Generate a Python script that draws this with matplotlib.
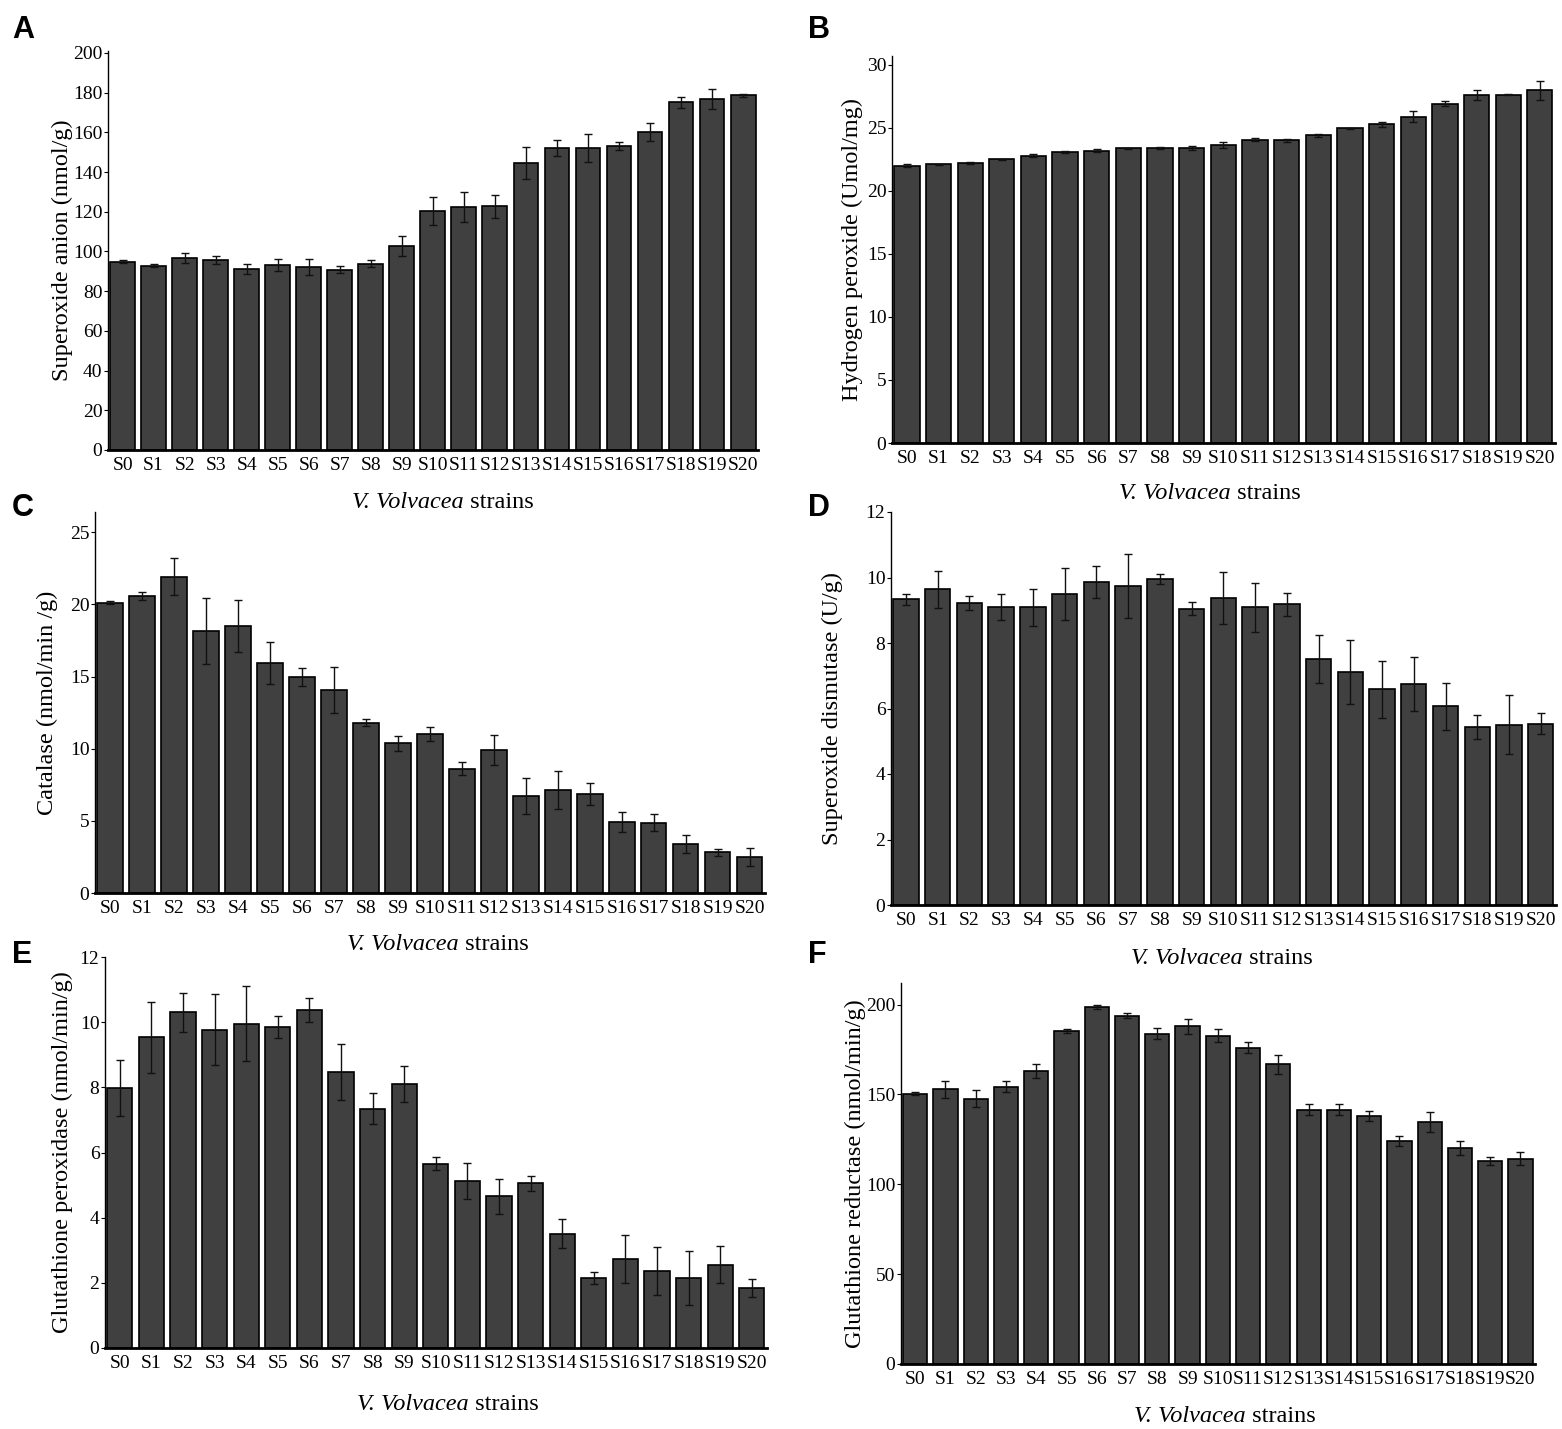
import matplotlib
matplotlib.use("Agg")
import matplotlib.pyplot as plt
import numpy as np

plt.rcParams['font.family'] = ['Liberation Serif', 'DejaVu Serif']

strains = ['S%d' % i for i in range(21)]

superoxide = [94.9, 92.9, 96.7, 95.6, 91.2, 93.0, 92.2, 90.9, 93.9, 102.6, 120.4,
              122.5, 122.7, 144.7, 152.2, 152.2, 153.1, 160.0, 175.2, 176.7, 178.7]
superoxide_err = [0.8, 0.9, 2.5, 2.0, 2.7, 3.0, 4.0, 1.8, 1.7, 5.0, 7.0,
                  7.4, 5.7, 8.0, 4.2, 7.0, 2.0, 4.5, 2.7, 5.0, 0.7]

h2o2 = [22.0, 22.1, 22.2, 22.5, 22.8, 23.08, 23.2, 23.37, 23.4, 23.42, 23.66,
        24.05, 24.03, 24.42, 24.95, 25.3, 25.9, 26.9, 27.6, 27.62, 27.99]
h2o2_err = [0.1, 0.03, 0.1, 0.03, 0.1, 0.05, 0.1, 0.05, 0.05, 0.15, 0.25,
            0.12, 0.12, 0.12, 0.05, 0.2, 0.45, 0.2, 0.4, 0.05, 0.75]

catalase = [20.1, 20.57, 21.93, 18.14, 18.47, 15.95, 14.96, 14.08, 11.8, 10.36, 11.03,
            8.61, 9.9, 6.74, 7.13, 6.88, 4.92, 4.87, 3.39, 2.82, 2.49]
catalase_err = [0.1, 0.27, 1.3, 2.3, 1.8, 1.45, 0.6, 1.6, 0.25, 0.5, 0.5,
                0.44, 1.06, 1.25, 1.3, 0.76, 0.67, 0.58, 0.65, 0.25, 0.65]

sod = [9.33, 9.64, 9.22, 9.09, 9.09, 9.5, 9.85, 9.73, 9.95, 9.05, 9.37,
       9.09, 9.18, 7.5, 7.11, 6.59, 6.75, 6.07, 5.43, 5.51, 5.54]
sod_err = [0.16, 0.56, 0.22, 0.4, 0.56, 0.8, 0.49, 0.98, 0.15, 0.2, 0.8,
           0.74, 0.36, 0.73, 0.97, 0.87, 0.83, 0.72, 0.36, 0.9, 0.33]

gpx = [7.97, 9.53, 10.31, 9.77, 9.95, 9.84, 10.37, 8.46, 7.35, 8.1, 5.66,
       5.12, 4.65, 5.05, 3.51, 2.14, 2.74, 2.37, 2.14, 2.56, 1.84]
gpx_err = [0.86, 1.1, 0.6, 1.08, 1.15, 0.34, 0.36, 0.86, 0.47, 0.56, 0.2,
           0.55, 0.55, 0.22, 0.45, 0.18, 0.73, 0.74, 0.83, 0.58, 0.28]

gr = [150.5, 152.9, 147.7, 154.2, 162.9, 185.2, 198.5, 193.9, 183.9, 187.9, 182.7,
      176.1, 166.8, 141.6, 141.6, 138.0, 124.3, 134.5, 120.2, 113.0, 114.3]
gr_err = [1.0, 4.8, 4.6, 3.0, 4.0, 1.0, 1.0, 1.3, 3.3, 4.3, 3.7,
          2.8, 5.2, 2.8, 2.8, 2.8, 2.8, 5.6, 3.7, 2.2, 3.7]

W, H = 1562, 1429
fig = plt.figure(figsize=(W / 100, H / 100), dpi=100)

xlab_it = 'V. Volvacea'
xlab_rm = ' strains'

panels = [
    ('A', superoxide, superoxide_err, 'Superoxide anion (nmol/g)', 201, np.arange(0, 201, 20),
     (108, 758, 51, 450), (12, 30), (443, 503), 62),
    ('B', h2o2, h2o2_err, 'Hydrogen peroxide (Umol/mg)', 30.7, np.arange(0, 31, 5),
     (892, 1555, 56, 443), (808, 30), (1210, 493), 852),
    ('C', catalase, catalase_err, 'Catalase (nmol/min /g)', 26.4, np.arange(0, 26, 5),
     (95, 765, 512, 893), (12, 508), (438, 945), 47),
    ('D', sod, sod_err, 'Superoxide dismutase (U/g)', 12, np.arange(0, 13, 2),
     (891, 1556, 512, 905), (808, 508), (1222, 958), 832),
    ('E', gpx, gpx_err, 'Glutathione peroxidase (nmol/min/g)', 12, np.arange(0, 13, 2),
     (105, 767, 957, 1348), (12, 955), (448, 1405), 62),
    ('F', gr, gr_err, 'Glutathione reductase (nmol/min/g)', 212, np.arange(0, 201, 50),
     (901, 1535, 983, 1364), (808, 955), (1225, 1416), 855),
]

renderer = fig.canvas.get_renderer()
x = np.arange(len(strains))
for letter, vals, errs, ylabel, ymax, yticks, (l, r, t, b), lpos, xlpos, ylx in panels:
    ax = fig.add_axes([l / W, 1 - b / H, (r - l) / W, (b - t) / H])
    ax.bar(x, vals, width=0.8, color='#404040', edgecolor='black', linewidth=1.2, zorder=2)
    ax.errorbar(x, vals, yerr=errs, fmt='none', ecolor='#111111', elinewidth=1.0,
                capsize=3, capthick=1.0, zorder=3)
    ax.set_xlim(-0.47, len(strains) - 0.52)
    ax.set_ylim(0, ymax)
    ax.set_yticks(yticks)
    ax.set_xticks(x)
    ax.set_xticklabels(strains, fontsize=14)
    ax.tick_params(axis='x', length=0, pad=5)
    ax.tick_params(axis='y', direction='out', length=3, width=0.8, pad=1, labelsize=14)
    for s in ('top', 'right'):
        ax.spines[s].set_visible(False)
    ax.spines['bottom'].set_linewidth(2.0)
    ax.spines['left'].set_linewidth(1.0)
    fig.text(ylx / W, 1 - ((t + b) / 2) / H, ylabel, rotation=90, ha='center', va='center',
             fontsize=17.5)
    # x label: italic part + roman part, centred as a whole
    t1 = fig.text(0, 1 - xlpos[1] / H, xlab_it, ha='left', va='center', fontsize=17.5,
                  style='italic')
    t2 = fig.text(0, 1 - xlpos[1] / H, xlab_rm, ha='left', va='center', fontsize=17.5)
    w1 = t1.get_window_extent(renderer).width
    w2 = t2.get_window_extent(renderer).width
    x0 = xlpos[0] - (w1 + w2) / 2
    t1.set_x(x0 / W)
    t2.set_x((x0 + w1) / W)
    fig.text(lpos[0] / W, 1 - lpos[1] / H, letter, ha='left', va='center', fontsize=22,
             fontweight='bold', family=['Liberation Sans', 'DejaVu Sans'])

fig.savefig('out.png', dpi=100, facecolor='white')
